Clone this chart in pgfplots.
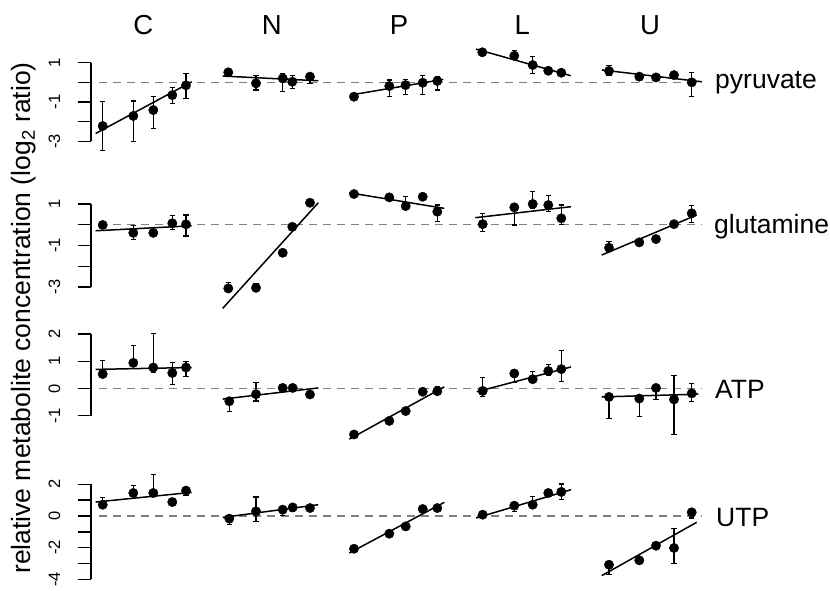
\documentclass[border=0pt]{standalone}
\usepackage{fontspec}
\setmainfont{Liberation Sans}
\usepackage{pgfplots}
\pgfplotsset{compat=1.18}
\usepackage{pgfplotstable}

% columns: x position, value (log2 ratio), error above, error below
\pgfplotstableread{
x y ep em
102.7 -2.22 1.23 1.25
133.3 -1.71 0.76 1.28
153.3 -1.41 0.68 0.92
172.3 -0.65 0.38 0.42
186.0 -0.15 0.61 0.68
228.3 0.51 0.15 0.15
256.0 -0.05 0.42 0.34
282.7 0.20 0.26 0.68
292.3 0.03 0.34 0.34
310.0 0.29 0.17 0.34
354.0 -0.73 0 0
389.3 -0.19 0.31 0.51
405.5 -0.14 0.29 0.46
422.7 -0.02 0.39 0.58
437.3 0.07 0.25 0.46
482.3 1.53 0 0
514.3 1.35 0.29 0.18
532.7 0.88 0.42 0.42
548.3 0.59 0 0
561.3 0.49 0 0
609.0 0.58 0.30 0.21
639.3 0.29 0 0
656.0 0.25 0 0
674.0 0.37 0 0
691.7 0.00 0.51 0.73
}\pyr

\pgfplotstableread{
x y ep em
102.7 -0.01 0 0
133.3 -0.39 0.34 0.31
153.3 -0.39 0 0
172.3 0.07 0.36 0.28
186.0 0.02 0.45 0.56
228.3 -3.07 0.27 0.10
256.0 -3.04 0.20 0.10
282.7 -1.35 0 0
292.3 -0.10 0 0
310.0 1.06 0 0
354.0 1.48 0 0
389.3 1.32 0 0
405.7 0.90 0.48 0.10
422.7 1.35 0 0
437.3 0.63 0.32 0.49
482.7 0.03 0.52 0.37
514.3 0.84 0.05 0.85
532.7 1.00 0.59 0.21
548.3 0.95 0.48 0.32
561.3 0.31 0.64 0.28
609.0 -1.11 0.29 0.10
639.3 -0.85 0 0
656.0 -0.69 0 0
674.0 0.03 0 0
691.7 0.55 0.37 0.45
}\glu

\pgfplotstableread{
x y ep em
102.7 0.53 0.51 0.10
133.3 0.94 0.65 0.11
153.3 0.77 1.25 0.20
172.3 0.57 0.37 0.42
186.0 0.77 0.21 0.32
229.3 -0.47 0.10 0.36
256.0 -0.21 0.42 0.25
282.7 0.02 0 0
292.7 0.02 0 0
310.0 -0.22 0 0
354.0 -1.69 0 0
389.3 -1.19 0 0
405.7 -0.83 0 0
422.7 -0.12 0.10 0.10
437.3 -0.10 0.18 0.05
482.7 -0.09 0.49 0.22
514.3 0.55 0.05 0.34
532.7 0.34 0.27 0.05
548.3 0.64 0.25 0.15
561.3 0.71 0.67 0.44
609.0 -0.31 0.05 0.79
639.3 -0.37 0.05 0.67
656.0 0.02 0.05 0.42
674.0 -0.40 0.89 1.28
691.7 -0.18 0.36 0.29
}\atp

\pgfplotstableread{
x y ep em
102.7 0.71 0.43 0.10
133.3 1.45 0.46 0.21
153.3 1.45 1.16 0.21
172.3 0.88 0.10 0.10
186.0 1.60 0.10 0.32
229.3 -0.17 0.10 0.38
256.0 0.29 0.91 0.63
282.7 0.40 0.10 0.38
292.7 0.54 0.10 0.25
310.0 0.50 0 0
354.0 -2.07 0 0
389.3 -1.12 0 0
405.7 -0.66 0.20 0.20
422.7 0.44 0 0
437.3 0.50 0.20 0
482.7 0.08 0.15 0.15
514.3 0.65 0.10 0.36
532.7 0.71 0.53 0.10
548.3 1.45 0.20 0.10
561.3 1.52 0.50 0.49
609.0 -3.08 0.10 0.63
639.3 -2.80 0 0
656.0 -1.88 0 0
674.0 -2.02 1.22 0.99
691.7 0.23 0.10 0.36
}\utp

\newcommand\bigfont{\fontsize{26.5}{30}\selectfont}
\newcommand\titlefont{\fontsize{27.5}{31}\selectfont}
\newcommand\tickfont{\fontsize{16.5}{19}\selectfont}

\pgfplotsset{
  rowaxis/.style={
    scale only axis, width=611pt, xmin=91, xmax=702, clip=false,
    anchor=south west,
    axis x line=none, axis y line*=left,
    y axis line style={-, line width=1.4pt, black},
    tick align=outside, major tick length=13.3pt,
    ytick style={line width=1.4pt, black},
    minor tick num=0,
    xtick=\empty,
    yticklabel style={rotate=90, anchor=base, inner sep=0pt, font=\tickfont},
    yticklabel shift=17.7pt,
  },
  myzero/.style={color={rgb,255:red,128;green,128;blue,128}, line width=1.3pt, dash pattern=on 8pt off 6pt},
  myfit/.style={black, line width=1.5pt},
  mypts/.style={only marks, mark=*, mark size=4.7pt, black,
    error bars/.cd, y dir=both, y explicit,
    error bar style={line width=1.1pt, black},
    error mark options={rotate=90, black, mark size=2.6pt, line width=1.1pt}},
}

\begin{document}
\begin{tikzpicture}
\useasboundingbox (0,0) rectangle (830pt,590pt);

% pyruvate
\begin{axis}[rowaxis, at={(91pt,448.7pt)}, height=78.6pt, ymin=-3, ymax=1,
  ytick={-3,-2,-1,0,1}, yticklabels={-3,,-1,,1}]
\addplot[myzero] coordinates {(99,0) (702,0)};
\addplot[myfit] coordinates {(95.7,-2.60) (191.7,0.03)};
\addplot[myfit] coordinates {(222.7,0.32) (318.3,0.08)};
\addplot[myfit] coordinates {(350,-0.65) (443.3,0.15)};
\addplot[myfit] coordinates {(476,1.69) (570.7,0.34)};
\addplot[myfit] coordinates {(602,0.63) (701.7,0.03)};
\addplot[mypts] table[x=x, y=y, y error plus=ep, y error minus=em] {\pyr};
\end{axis}

% glutamine
\begin{axis}[rowaxis, at={(91pt,303pt)}, height=83pt, ymin=-3, ymax=1,
  ytick={-3,-2,-1,0,1}, yticklabels={-3,,-1,,1}]
\addplot[myzero] coordinates {(99,0) (702,0)};
\addplot[myfit] coordinates {(95.7,-0.29) (191.7,-0.05)};
\addplot[myfit] coordinates {(222.7,-4.03) (318.3,1.06)};
\addplot[myfit] coordinates {(349.3,1.54) (444.3,0.79)};
\addplot[myfit] coordinates {(475.3,0.34) (571,0.87)};
\addplot[myfit] coordinates {(601.7,-1.46) (696.7,0.47)};
\addplot[mypts] table[x=x, y=y, y error plus=ep, y error minus=em] {\glu};
\end{axis}

% ATP
\begin{axis}[rowaxis, at={(91pt,174.3pt)}, height=81.7pt, ymin=-1, ymax=2,
  ytick={-1,0,1,2}, yticklabels={-1,0,1,2}]
\addplot[myzero] coordinates {(99,0) (702,0)};
\addplot[myfit] coordinates {(95.7,0.70) (191.7,0.77)};
\addplot[myfit] coordinates {(222.7,-0.39) (318.3,0.02)};
\addplot[myfit] coordinates {(349.3,-1.86) (444.3,0.06)};
\addplot[myfit] coordinates {(476.7,-0.12) (571,0.79)};
\addplot[myfit] coordinates {(601.7,-0.31) (698.3,-0.21)};
\addplot[mypts] table[x=x, y=y, y error plus=ep, y error minus=em] {\atp};
\end{axis}

% UTP
\begin{axis}[rowaxis, at={(91pt,10.7pt)}, height=95pt, ymin=-4, ymax=2,
  ytick={-4,-3,-2,-1,0,1,2}, yticklabels={-4,,-2,,0,,2}]
\addplot[myzero] coordinates {(99,0) (702,0)};
\addplot[myfit] coordinates {(95.7,0.88) (191.7,1.49)};
\addplot[myfit] coordinates {(222.7,-0.09) (318.3,0.71)};
\addplot[myfit] coordinates {(349.3,-2.34) (444.3,0.86)};
\addplot[myfit] coordinates {(476,-0.13) (571,1.66)};
\addplot[myfit] coordinates {(601.7,-3.77) (696.7,-0.40)};
\addplot[mypts] table[x=x, y=y, y error plus=ep, y error minus=em] {\utp};
\end{axis}

% column titles
\node[font=\titlefont, inner sep=0pt, anchor=base] at (143.3pt,555pt) {C};
\node[font=\titlefont, inner sep=0pt, anchor=base] at (271.7pt,555pt) {N};
\node[font=\titlefont, inner sep=0pt, anchor=base] at (399pt,555pt) {P};
\node[font=\titlefont, inner sep=0pt, anchor=base] at (522.3pt,555pt) {L};
\node[font=\titlefont, inner sep=0pt, anchor=base] at (650pt,555pt) {U};

% row labels
\node[font=\bigfont, inner sep=0pt, anchor=base west] at (715pt,501.7pt) {pyruvate};
\node[font=\bigfont, inner sep=0pt, anchor=base west] at (714pt,356.7pt) {glutamine};
\node[font=\bigfont, inner sep=0pt, anchor=base west] at (715pt,191.7pt) {ATP};
\node[font=\bigfont, inner sep=0pt, anchor=base west] at (716pt,64pt) {UTP};

% y axis label
\node[font=\bigfont, inner sep=0pt, rotate=90, anchor=base] at (30.4pt,272pt)
  {relative metabolite concentration (log\textsubscript{2} ratio)};
\end{tikzpicture}
\end{document}
